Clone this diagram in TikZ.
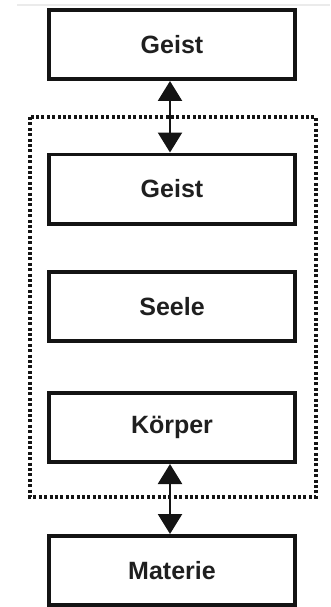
\documentclass[tikz,border=0pt]{standalone}
\usepackage{fontspec}
\setmainfont{Liberation Sans}
\usetikzlibrary{arrows.meta}
\begin{document}
\begin{tikzpicture}[x=1pt,y=-1pt,
  box/.style={draw=black!92, line width=3.6pt, minimum width=246.4pt, minimum height=69.4pt, inner sep=0pt,
    font=\fontsize{25}{28}\selectfont\bfseries, text=black!88},
  dbl/.style={line width=2.4pt, draw=black!92, {Triangle[width=24pt,length=20pt]}-{Triangle[width=24pt,length=20pt]}},
  frame/.style={draw=black!92, line width=3.2pt, dash pattern=on 3pt off 2.4pt}]
\useasboundingbox (0,0) rectangle (330,607);
\draw[black!8, line width=2pt] (17,5) -- (330,5);
\draw[frame] (30,117) rectangle (316,497);
\node[box] (g1) at (172,44.5) {Geist};
\node[box] (g2) at (172,189) {Geist};
\node[box] (s) at (172,306.5) {Seele};
\node[box] (k) at (172,427.5) {Körper};
\node[box] (m) at (172,570.5) {Materie};
\draw[dbl] (g1.south -| 170,0) -- (g2.north -| 170,0);
\draw[dbl] (k.south -| 170,0) -- (m.north -| 170,0);
\end{tikzpicture}
\end{document}
